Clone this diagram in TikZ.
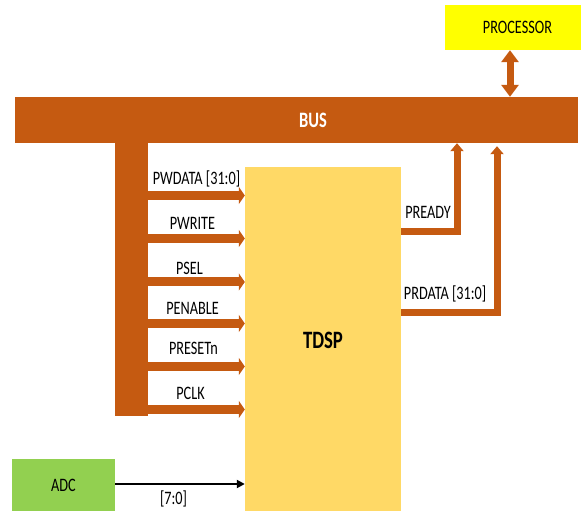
\documentclass[tikz,border=0pt]{standalone}
\usepackage{fontspec}
\setmainfont{Carlito}[FakeStretch=0.75]
\usetikzlibrary{arrows.meta,calc,positioning}
\definecolor{busorange}{HTML}{C55A11}
\definecolor{coreyellow}{HTML}{FFD966}
\definecolor{procyellow}{HTML}{FFFF00}
\definecolor{adcgreen}{HTML}{92D050}

\begin{document}
\begin{tikzpicture}[
  x=1pt, y=1pt,
  font=\fontsize{19}{22}\selectfont,
  block/.style={rectangle, inner sep=0pt},
  sig/.style={busorange, line width=9pt,
    -{Triangle[length=6pt, width=17pt]}},
  ret/.style={busorange, line width=7pt,
    -{Triangle[length=8pt, width=13pt]}},
  link/.style={busorange, line width=7pt,
    {Triangle[length=12pt, width=17pt]}-{Triangle[length=12pt, width=17pt]}},
  wire/.style={black, line width=2.5pt, -{Triangle[length=8pt, width=8pt]}},
  lbl/.style={inner sep=0pt, text=black}
]
  \useasboundingbox (0,0) rectangle (581,511);

  \node[block, fill=procyellow, minimum width=145pt, minimum height=45pt]
    (processor) at (517.5,483.5) {PROCESSOR};
  \node[block, fill=busorange, minimum width=563pt, minimum height=46pt]
    (bus) at (296.5,391) {};
  \node[lbl, text=white, font=\fontsize{22}{26}\selectfont\bfseries]
    (bustitle) at (313,391) {BUS};
  \node[block, fill=busorange, minimum width=33pt, minimum height=274pt,
    anchor=north] (stem) at (131.5,369) {};
  \node[block, fill=coreyellow, minimum width=156pt, minimum height=346pt,
    font=\fontsize{25}{29}\selectfont\bfseries] (tdsp) at (323,171) {TDSP};
  \node[block, fill=adcgreen, minimum width=103pt, minimum height=52pt]
    (adc) at (63.5,26) {ADC};

  \coordinate (tap) at (510,0);
  \coordinate (rdy) at (457,0);
  \coordinate (rdd) at (497,0);

  \draw[link] (processor.south -| tap) -- (bus.north -| tap);

  \draw[sig] (stem.east |- 0,315.5) -- (tdsp.west |- 0,315.5)
    node[lbl, midway, yshift=17pt] {PWDATA [31:0]};
  \draw[sig] (stem.east |- 0,272.5) -- (tdsp.west |- 0,272.5)
    node[lbl, midway, yshift=15pt, xshift=-4pt] {PWRITE};
  \draw[sig] (stem.east |- 0,229) -- (tdsp.west |- 0,229)
    node[lbl, midway, yshift=14pt, xshift=-7pt] {PSEL};
  \draw[sig] (stem.east |- 0,187.5) -- (tdsp.west |- 0,187.5)
    node[lbl, midway, yshift=15pt, xshift=-4pt] {PENABLE};
  \draw[sig] (stem.east |- 0,144.5) -- (tdsp.west |- 0,144.5)
    node[lbl, midway, yshift=18pt, xshift=-3pt] {PRESETn};
  \draw[sig] (stem.east |- 0,101.5) -- (tdsp.west |- 0,101.5)
    node[lbl, midway, yshift=16pt, xshift=-6pt] {PCLK};

  \draw[ret] (tdsp.east |- 0,279) -| (bus.south -| rdy)
    node[lbl, pos=0.25, yshift=20pt, xshift=-1pt] {PREADY};
  \draw[ret] (tdsp.east |- 0,198) -| ($(bus.south -| rdd)+(0,-3)$)
    node[lbl, pos=0.25, yshift=19pt, xshift=-4pt] {PRDATA [31:0]};

  \draw[wire] (adc.east |- 0,27) -- (tdsp.west |- 0,27)
    node[lbl, pos=0.45, yshift=-15pt] {[7:0]};
\end{tikzpicture}
\end{document}
